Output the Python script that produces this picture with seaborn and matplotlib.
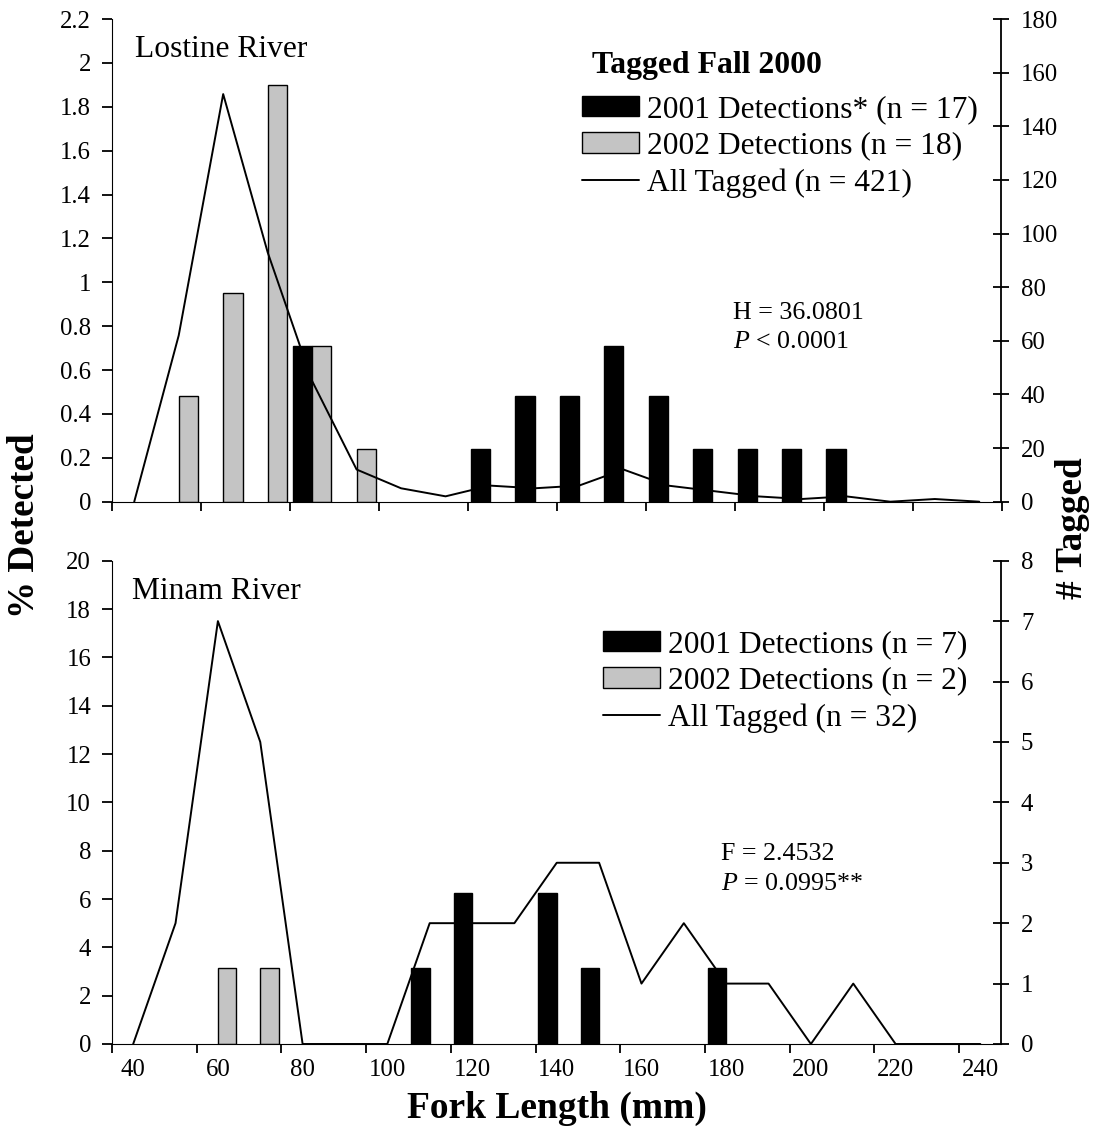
import numpy as np
import pandas as pd
import matplotlib
matplotlib.use("Agg")
import matplotlib.pyplot as plt
import seaborn as sns
from matplotlib.patches import Patch
from matplotlib.lines import Line2D
from matplotlib.ticker import FixedLocator, NullFormatter, FixedFormatter

# ---------------- data ----------------
# Lostine River (fork-length bins, mm)
lostine_lengths = [40, 50, 60, 70, 80, 90, 100, 110, 120, 130,
                   140, 150, 160, 170, 180, 190, 200, 210, 220, 230]
lostine_det_2001 = [0, 0, 0, 0, 0.71, 0, 0, 0, 0.24, 0.48,
                    0.48, 0.71, 0.48, 0.24, 0.24, 0.24, 0.24, 0, 0, 0]
lostine_det_2002 = [0, 0.48, 0.95, 1.90, 0.71, 0.24, 0, 0, 0, 0,
                    0, 0, 0, 0, 0, 0, 0, 0, 0, 0]
lostine_tagged = [0, 62, 152, 93, 45, 12, 5, 2, 6, 5,
                  6, 12, 6, 4, 2, 1, 2, 0, 1, 0]

# Minam River
minam_lengths = [40, 50, 60, 70, 80, 90, 100, 110, 120, 130,
                 140, 150, 160, 170, 180, 190, 200, 210, 220, 230, 240]
minam_det_2001 = [0, 0, 0, 0, 0, 0, 0, 3.13, 6.25, 0,
                  6.25, 3.13, 0, 0, 3.13, 0, 0, 0, 0, 0, 0]
minam_det_2002 = [0, 0, 3.13, 3.13, 0, 0, 0, 0, 0, 0,
                  0, 0, 0, 0, 0, 0, 0, 0, 0, 0, 0]
minam_tagged = [0, 2, 7, 5, 0, 0, 0, 2, 2, 2,
                3, 3, 1, 2, 1, 1, 0, 1, 0, 0, 0]

lostine_pct_ticks = [0, 0.2, 0.4, 0.6, 0.8, 1, 1.2, 1.4, 1.6, 1.8, 2, 2.2]
lostine_tag_ticks = [0, 20, 40, 60, 80, 100, 120, 140, 160, 180]
minam_pct_ticks = [0, 2, 4, 6, 8, 10, 12, 14, 16, 18, 20]
minam_tag_ticks = [0, 1, 2, 3, 4, 5, 6, 7, 8]
x_tick_labels = [40, 60, 80, 100, 120, 140, 160, 180, 200, 220, 240]

series_years = ["2001", "2002"]
lostine_legend = ["2001 Detections* (n = 17)", "2002 Detections (n = 18)",
                  "All Tagged (n = 421)"]
minam_legend = ["2001 Detections (n = 7)", "2002 Detections (n = 2)",
                "All Tagged (n = 32)"]

# ---------------- style ----------------
sns.set_style("ticks", rc={"axes.edgecolor": "black", "xtick.color": "black",
                           "ytick.color": "black", "text.color": "black",
                           "axes.labelcolor": "black", "axes.linewidth": 1.3})
plt.rcParams["font.family"] = ["Liberation Serif", "DejaVu Serif"]
plt.rcParams["mathtext.fontset"] = "custom"
plt.rcParams["mathtext.rm"] = "Liberation Serif"
plt.rcParams["mathtext.it"] = "Liberation Serif:italic"

GRAY = "#c4c4c4"
W, H = 1096, 1131
fig = plt.figure(figsize=(W / 100, H / 100), dpi=100)


def fx(px):
    return px / W


def fy(py):
    return 1 - py / H


TICK_FS = 17.8


def panel(rect, lengths, d01, d02, tagged, pct_ticks, tag_ticks, labels):
    ax = fig.add_axes(rect)
    n = len(lengths)
    df = pd.DataFrame({
        "length": lengths * 2,
        "year": [series_years[0]] * n + [series_years[1]] * n,
        "pct": d01 + d02,
    })
    df = df[df["pct"] > 0]
    sns.barplot(data=df, x="length", y="pct", hue="year", order=lengths,
                hue_order=series_years,
                palette={series_years[0]: "black", series_years[1]: GRAY},
                width=0.87, dodge=True, edgecolor="black", linewidth=1.0,
                errorbar=None, legend=False, saturation=1, ax=ax)
    ax2 = ax.twinx()
    sns.lineplot(x=np.arange(n), y=tagged, ax=ax2, color="black",
                 linewidth=1.4)
    ax.set_xlim(-0.5, n - 0.5)
    ax.set_ylim(0, pct_ticks[-1])
    ax2.set_ylim(0, tag_ticks[-1])
    ax.set_xlabel("")
    ax.set_ylabel("")
    ax2.set_ylabel("")

    ax.set_yticks(pct_ticks)
    ax.set_yticklabels([f"{v:g}" for v in pct_ticks])
    ax2.set_yticks(tag_ticks)
    ax2.set_yticklabels([f"{v:g}" for v in tag_ticks])

    ax.xaxis.set_major_locator(FixedLocator(np.arange(-0.5, n, 2)))
    ax.xaxis.set_major_formatter(NullFormatter())
    if labels:
        pos = [lengths.index(v) for v in x_tick_labels]
        ax.xaxis.set_minor_locator(FixedLocator(pos))
        ax.xaxis.set_minor_formatter(FixedFormatter([str(v) for v in x_tick_labels]))
        ax.tick_params(axis="x", which="minor", length=0, labelsize=TICK_FS, pad=11)
    else:
        ax.xaxis.set_minor_locator(FixedLocator([]))

    ax.spines[["top", "right"]].set_visible(False)
    ax2.spines[["top", "left", "bottom"]].set_visible(False)
    ax2.spines["right"].set_linewidth(1.3)
    ax.tick_params(axis="y", direction="out", length=7, width=1.3,
                   labelsize=TICK_FS, pad=8)
    ax.tick_params(axis="x", which="major", direction="out", length=6.5,
                   width=1.3)
    ax2.tick_params(axis="y", direction="inout", length=12, width=1.3,
                    labelsize=TICK_FS, pad=8)
    return ax, ax2


top_rect = [fx(112), fy(501.7), fx(1001.5) - fx(112), fy(19) - fy(501.7)]
bot_rect = [fx(112), fy(1044), fx(1001.5) - fx(112), fy(560.7) - fy(1044)]

panel(top_rect, lostine_lengths, lostine_det_2001, lostine_det_2002,
      lostine_tagged, lostine_pct_ticks, lostine_tag_ticks, False)
panel(bot_rect, minam_lengths, minam_det_2001, minam_det_2002,
      minam_tagged, minam_pct_ticks, minam_tag_ticks, True)


def handles():
    return [Patch(facecolor="black", edgecolor="black", linewidth=1.0),
            Patch(facecolor=GRAY, edgecolor="black", linewidth=1.0),
            Line2D([], [], color="black", linewidth=1.4)]


LEG_FS = 22.7
leg_kw = dict(loc="upper left", frameon=False, borderpad=0, borderaxespad=0,
              handlelength=1.81, handleheight=0.63, handletextpad=0.25,
              labelspacing=0.24, prop={"size": LEG_FS})
fig.legend(handles(), lostine_legend, bbox_to_anchor=(fx(582), fy(95)), **leg_kw)
fig.legend(handles(), minam_legend, bbox_to_anchor=(fx(603.3), fy(630)), **leg_kw)

fig.text(fx(591.7), fy(73.3), "Tagged Fall 2000", weight="bold", size=22.9,
         va="baseline", ha="left")
fig.text(fx(135), fy(57.3), "Lostine River", size=22.7, va="baseline", ha="left")
fig.text(fx(131.7), fy(599.3), "Minam River", size=22.7, va="baseline", ha="left")

STAT_FS = 18.7
fig.text(fx(732.7), fy(319.3), "H = 36.0801", size=STAT_FS, va="baseline")
fig.text(fx(732.7), fy(348.3), r"$P$ < 0.0001", size=STAT_FS, va="baseline")
fig.text(fx(721), fy(860), "F = 2.4532", size=STAT_FS, va="baseline")
fig.text(fx(721), fy(890), r"$P$ = 0.0995**", size=STAT_FS, va="baseline")

fig.text(fx(24.2), fy(525.5), "% Detected", rotation=90, weight="bold",
         size=26.7, ha="center", va="center")
fig.text(fx(1072.5), fy(528.5), "# Tagged", rotation=90, weight="bold",
         size=26.7, ha="center", va="center")
fig.text(fx(557), fy(1118), "Fork Length (mm)", weight="bold", size=27,
         ha="center", va="baseline")

fig.savefig("out.png", dpi=100)
